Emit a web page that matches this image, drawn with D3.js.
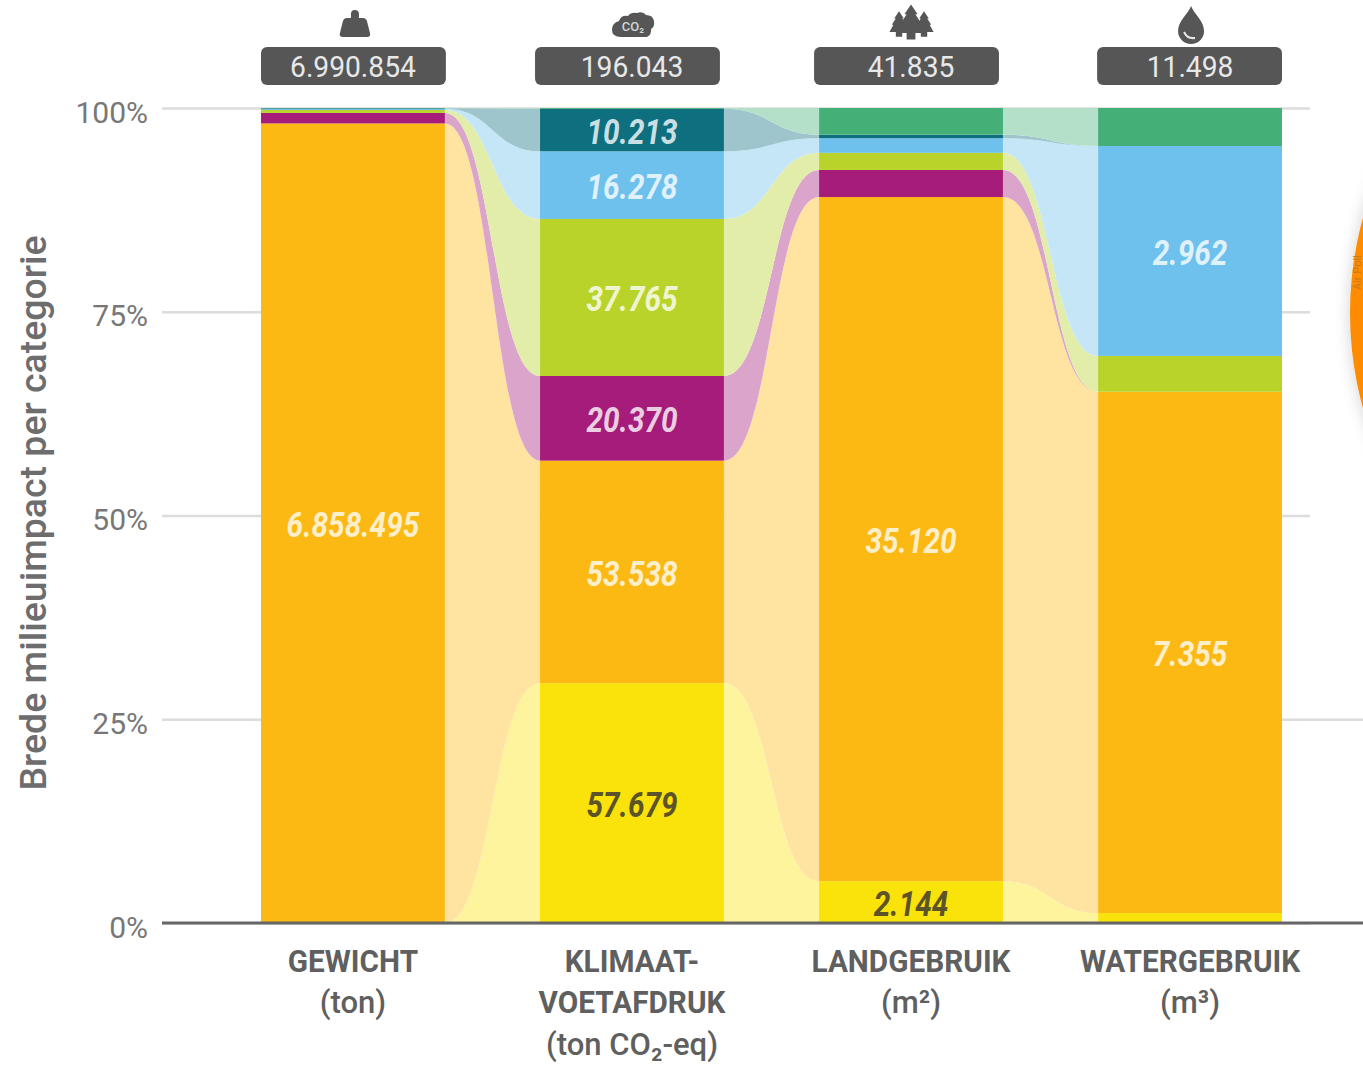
<!DOCTYPE html>
<html lang="nl">
<head>
<meta charset="utf-8">
<title>Brede milieuimpact per categorie</title>
<script src="https://cdn.jsdelivr.net/npm/d3@7"></script>
<style>
  html, body { margin: 0; background: #fff; overflow: hidden; }
  svg { display: block; font-family: Roboto, sans-serif; }
  .domain { display: none; }
</style>
</head>
<body>
<svg id="chart" width="1363" height="1068"></svg>
<script>
// Impact categories
const categories = ["GEWICHT", "KLIMAAT", "LANDGEBRUIK", "WATERGEBRUIK"];
const categoryLabels = [
  ["GEWICHT", "(ton)"],
  ["KLIMAAT-", "VOETAFDRUK", "(ton CO₂-eq)"],
  ["LANDGEBRUIK", "(m²)"],
  ["WATERGEBRUIK", "(m³)"]
];
const totals = [6990854, 196043, 41835, 11498];

// One array per consumption group, bottom of the stack first
const geel   = [0, 57679, 2144, 140];
const oranje = [6858495, 53538, 35120, 7355];
const paars  = [90000, 20370, 1390, 0];
const lime   = [25000, 37765, 880, 505];
const blauw  = [10000, 16278, 750, 2962];
const petrol = [5000, 10213, 180, 0];
const groen  = [2359, 200, 1371, 536];

const seriesNames = ["geel", "oranje", "paars", "lime", "blauw", "petrol", "groen"];
const seriesValues = [geel, oranje, paars, lime, blauw, petrol, groen];
const seriesColors = ["#F9E30B", "#FDB913", "#A51C7B", "#BAD32B", "#6EC1EC", "#0E6F7F", "#44B078"];

// Segments that carry a printed value, per column
const labelled = [
  ["oranje"],
  ["geel", "oranje", "paars", "lime", "blauw", "petrol"],
  ["geel", "oranje"],
  ["oranje", "blauw"]
];
const darkLabels = ["geel"];
const yTicks = [0, 0.25, 0.5, 0.75, 1];

const rows = categories.map((c, i) => {
  const row = { category: c };
  seriesNames.forEach((s, j) => { row[s] = seriesValues[j][i]; });
  return row;
});
const stacked = d3.stack().keys(seriesNames).offset(d3.stackOffsetExpand)(rows);

const x = d3.scaleBand().domain(categories).range([261, 1282]).paddingInner(0.341);
const y = d3.scaleLinear().domain([0, 1]).range([923, 108]);
const color = d3.scaleOrdinal().domain(seriesNames).range(seriesColors);
const tint = key => d3.interpolateRgb("#fff", color(key))(0.4);
const nl = d3.formatLocale({ decimal: ",", thousands: ".", grouping: [3], currency: ["€", ""] });
const fmt = nl.format(",d");

const svg = d3.select("#chart");
const defs = svg.append("defs");
const shadow = defs.append("filter").attr("id", "soft")
  .attr("x", "-20%").attr("y", "-20%").attr("width", "140%").attr("height", "140%");
shadow.append("feDropShadow").attr("dx", -2).attr("dy", 0)
  .attr("stdDeviation", 7).attr("flood-color", "#000").attr("flood-opacity", 0.14);

// Narrow the running text to the condensed width of the house style
function condense(sel, factor) {
  sel.each(function () {
    const w = this.getComputedTextLength();
    d3.select(this).attr("textLength", w * factor).attr("lengthAdjust", "spacingAndGlyphs");
  });
  return sel;
}

// Y axis with full-width gridlines
const yAxis = svg.append("g").attr("transform", "translate(162,0)")
  .call(d3.axisLeft(y).tickValues(yTicks).tickFormat(d3.format(".0%")).tickSize(-1148).tickPadding(14));
yAxis.selectAll(".tick line").attr("stroke", "#dcdcdc").attr("stroke-width", 2.5)
  .filter(d => d === 0.25).attr("x2", 1201);
yAxis.selectAll(".tick text")
  .attr("fill", "#777").attr("font-size", 30).attr("font-family", "Roboto, sans-serif").attr("dy", "0.47em");

svg.append("text")
  .attr("transform", "translate(46,513) rotate(-90)")
  .attr("text-anchor", "middle").attr("font-size", 36).attr("font-weight", 500).attr("fill", "#6d6d6d")
  .text("Brede milieuimpact per categorie")
  .call(condense, 1.04);

// Flows between neighbouring columns
const flow = d3.area().curve(d3.curveBumpX).x(d => d.x).y0(d => y(d.y0)).y1(d => y(d.y1));
const gaps = d3.pairs(d3.range(categories.length));
stacked.forEach(layer => {
  svg.append("g").selectAll("path").data(gaps).join("path")
    .attr("fill", tint(layer.key))
    .attr("d", ([a, b]) => flow([
      { x: x(categories[a]) + x.bandwidth(), y0: layer[a][0], y1: layer[a][1] },
      { x: x(categories[b]), y0: layer[b][0], y1: layer[b][1] }
    ]));
});

// Column segments
stacked.forEach(layer => {
  svg.append("g").selectAll("rect").data(layer).join("rect")
    .attr("x", d => x(d.data.category)).attr("width", x.bandwidth())
    .attr("y", d => y(d[1])).attr("height", d => y(d[0]) - y(d[1]))
    .attr("fill", color(layer.key));
});

// Printed values inside the segments
stacked.forEach(layer => {
  const cols = layer.map((d, i) => ({ d, i, name: layer.key }))
    .filter(o => labelled[o.i].includes(o.name));
  svg.append("g").selectAll("text").data(cols).join("text")
    .attr("x", o => x(categories[o.i]) + x.bandwidth() / 2)
    .attr("y", o => y((o.d[0] + o.d[1]) / 2) + 14)
    .attr("text-anchor", "middle")
    .attr("font-size", 35).attr("font-weight", 700).attr("font-style", "italic")
    .attr("fill", o => darkLabels.includes(o.name) ? "#5c5428" : "#fff")
    .attr("fill-opacity", o => darkLabels.includes(o.name) ? 1 : 0.8)
    .text(o => fmt(o.d.data[o.name]))
    .call(condense, 0.85);
});

// Baseline
svg.append("line")
  .attr("x1", 162).attr("x2", 1363).attr("y1", y(0)).attr("y2", y(0))
  .attr("stroke", "#666").attr("stroke-width", 3);

// Totals above the columns; the pills sit slightly off the column centres
const pillShift = [0, -5, -5, -1];
const head = svg.append("g").selectAll("g").data(categories).join("g")
  .attr("transform", c => `translate(${x(c)},47)`);
head.append("rect")
  .attr("x", (c, i) => pillShift[i])
  .attr("width", x.bandwidth() + 1).attr("height", 38).attr("rx", 6).attr("fill", "#565656");
head.append("text")
  .attr("x", x.bandwidth() / 2).attr("y", 30).attr("text-anchor", "middle")
  .attr("font-size", 30).attr("fill", "#e8e8e8")
  .text((c, i) => fmt(totals[i]))
  .call(condense, 0.94);

// Category labels under the axis
const lineY = [961, 1002, 1044];
categoryLabels.forEach((lines, i) => {
  const g = svg.append("g");
  lines.forEach((line, k) => {
    const isUnit = line.startsWith("(");
    g.append("text")
      .attr("x", x(categories[i]) + x.bandwidth() / 2).attr("y", lineY[k] + 11)
      .attr("text-anchor", "middle").attr("font-size", 32)
      .attr("font-weight", isUnit ? 500 : 700).attr("fill", "#5f5f5f")
      .text(line)
      .call(condense, isUnit ? 0.97 : 0.93);
  });
});

// Icons above the totals
const iconColor = "#565656";
const icons = svg.append("g").attr("fill", iconColor);
const iconX = categories.map(c => x(c) + x.bandwidth() / 2);

// Weight
icons.append("path").attr("transform", `translate(${iconX[0] + 2},0)`)
  .attr("d", "M-4 18 v-4 a4 4 0 0 1 8 0 v4 h4 q3 0 4 3 l3 12 q1 4 -3 4 h-24 q-4 0 -3 -4 l3 -12 q1 -3 4 -3 z");

// Cloud with CO2 inside
const cloud = svg.append("g").attr("transform", `translate(${iconX[1] + 1},0)`);
cloud.append("path").attr("fill", iconColor)
  .attr("d", "M-12 37 q-9 0 -9 -7 q0 -7 7 -9 q2 -6 9 -5 q3 -4 9 -3 q6 -2 9 2 q7 0 8 6 q1 6 -3 8 q1 5 -4 8 z");
cloud.append("text").attr("x", 0).attr("y", 31).attr("text-anchor", "middle")
  .attr("font-size", 13).attr("font-weight", 500).attr("fill", "#cfd4dc").text("CO₂");

// Three trees
const tree = "M0 -16 l6 9 h-2 l5 8 h-2 l5 9 h-8 v6 h-8 v-6 h-8 l5 -9 h-2 l5 -8 h-2 z";
[[-12, 24, 0.8], [0, 22, 1.1], [13, 24, 0.8]].forEach(([dx, cy, s]) => {
  icons.append("path")
    .attr("transform", `translate(${iconX[2] + dx},${cy}) scale(${s})`)
    .attr("d", tree);
});

// Water drop with highlight
const drop = svg.append("g").attr("transform", `translate(${iconX[3] + 1},0)`);
drop.append("path").attr("fill", iconColor)
  .attr("d", "M0 6 C3 14 13 21 13 31 A13 13 0 0 1 -13 31 C-13 21 -3 14 0 6 z");
drop.append("path").attr("fill", "none").attr("stroke", "#e6e6e6").attr("stroke-width", 2)
  .attr("d", "M-7 32 Q-4 39 4 38");

// Round badge entering from the right edge
svg.append("circle").attr("cx", 1708).attr("cy", 313).attr("r", 358)
  .attr("fill", "#FF8C00").attr("filter", "url(#soft)");
svg.append("text").attr("transform", "translate(1361,290) rotate(-90)")
  .attr("font-size", 11).attr("fill", "#c8791a").text("Air Poll");
</script>
</body>
</html>
